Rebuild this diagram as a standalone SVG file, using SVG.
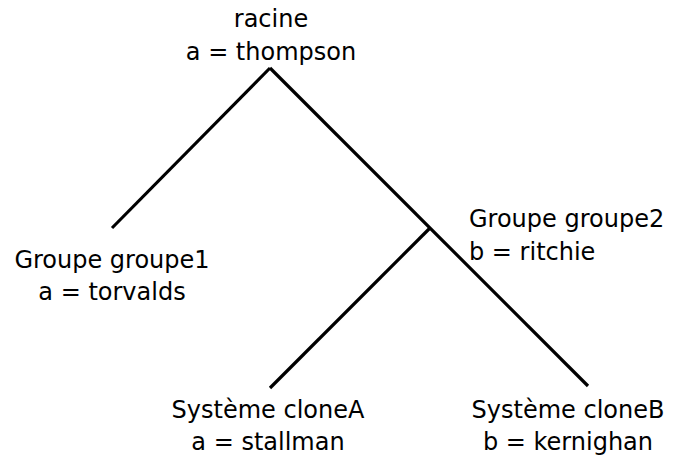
<svg xmlns="http://www.w3.org/2000/svg" width="690" height="465" viewBox="0 0 690 465">
  <style>
    text { font-family: "DejaVu Sans", sans-serif; font-size: 24px; fill: #000; }
    .c { text-anchor: middle; }
    .edge { stroke: #000; stroke-width: 3.2; fill: none; stroke-linecap: butt; }
  </style>
  <rect width="690" height="465" fill="#fff"/>
  <g id="connectors">
    <line class="edge" x1="270" y1="68" x2="112" y2="228"/>
    <line class="edge" x1="270" y1="68" x2="588" y2="386"/>
    <line class="edge" x1="430" y1="228" x2="270" y2="388"/>
  </g>
  <g id="racine">
    <text class="c" x="271" y="27">racine</text>
    <text class="c" x="271" y="60">a = thompson</text>
  </g>
  <g id="groupe1">
    <text class="c" x="112" y="268">Groupe groupe1</text>
    <text class="c" x="112" y="300">a = torvalds</text>
  </g>
  <g id="groupe2">
    <text x="469" y="227">Groupe groupe2</text>
    <text x="469" y="260">b = ritchie</text>
  </g>
  <g id="cloneA">
    <text class="c" x="268" y="418">Système cloneA</text>
    <text class="c" x="268" y="450">a = stallman</text>
  </g>
  <g id="cloneB">
    <text class="c" x="568" y="418">Système cloneB</text>
    <text class="c" x="568" y="450">b = kernighan</text>
  </g>
</svg>
